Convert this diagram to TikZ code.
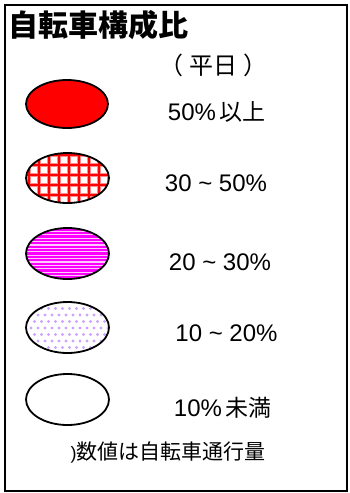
\documentclass[tikz,border=0pt]{standalone}
\usepackage{fontspec}
\setmainfont{Liberation Sans}
\newfontfamily\cjk{Noto Sans CJK JP}
\definecolor{dotpurple}{RGB}{205,165,255}
\definecolor{brightmagenta}{RGB}{255,0,255}
\definecolor{palemagenta}{RGB}{255,200,255}
\begin{document}
\begin{tikzpicture}[x=1pt,y=-1pt,
  lbl/.style={font=\fontsize{24}{26}\selectfont, anchor=center, inner sep=0pt},
]
\useasboundingbox (0,0) rectangle (349,493);
\fill[white] (0,0) rectangle (349,493);
\draw[line width=2.5pt] (5,5) rectangle (347,491);

% title
\node[anchor=west, inner sep=0pt, font=\fontsize{30}{32}\cjk\bfseries\selectfont] (title) at (8,25) {自転車構成比};
\node[inner sep=0pt, font=\fontsize{24}{26}\cjk\selectfont] (sub) at (213,65) {（\hspace{6pt}平日\hspace{6pt}）};

% swatch 1: solid red
\coordinate (e1) at (67,104);
\fill[red] (e1) ellipse [x radius=41, y radius=24];
\draw[line width=1.8pt] (e1) ellipse [x radius=41, y radius=24];

% swatch 2: red grid
\coordinate (e2) at (67.5,178);
\begin{scope}
  \clip (e2) ellipse [x radius=41.5, y radius=25];
  \fill[white] (e2) ellipse [x radius=41.5, y radius=25];
  \foreach \i in {0,...,9} {
    \draw[red!45, line width=4.6pt] ({29+\i*10},150) -- ({29+\i*10},206);
  }
  \foreach \j in {0,...,5} {
    \draw[red!45, line width=4.6pt] (20,{155+\j*10}) -- (115,{155+\j*10});
  }
  \foreach \i in {0,...,9} {
    \draw[red, line width=2.6pt] ({29+\i*10},150) -- ({29+\i*10},206);
  }
  \foreach \j in {0,...,5} {
    \draw[red, line width=2.6pt] (20,{155+\j*10}) -- (115,{155+\j*10});
  }
\end{scope}
\draw[line width=1.8pt] (e2) ellipse [x radius=41.5, y radius=25];

% swatch 3: magenta stripes
\coordinate (e3) at (67.5,253.5);
\begin{scope}
  \clip (e3) ellipse [x radius=41.5, y radius=25.5];
  \fill[brightmagenta] (e3) ellipse [x radius=41.5, y radius=25.5];
  \foreach \j in {0,...,16} {
    \draw[palemagenta, line width=1.3pt] (20,{228+\j*3.4}) -- (115,{228+\j*3.4});
  }
\end{scope}
\draw[line width=1.8pt] (e3) ellipse [x radius=41.5, y radius=25.5];

% swatch 4: purple dots
\coordinate (e4) at (67.5,327.5);
\begin{scope}
  \clip (e4) ellipse [x radius=41.5, y radius=25.5];
  \fill[white] (e4) ellipse [x radius=41.5, y radius=25.5];
  \foreach \j in {0,...,8} {
    \pgfmathsetmacro{\off}{mod(\j,2)*3.5}
    \foreach \i in {0,...,13} {
      \fill[dotpurple] ({24+\i*7+\off},{302+\j*6.5}) circle (1.6);
    }
  }
\end{scope}
\draw[line width=1.8pt] (e4) ellipse [x radius=41.5, y radius=25.5];

% swatch 5: white
\coordinate (e5) at (67.5,399.5);
\draw[line width=1.8pt, fill=white] (e5) ellipse [x radius=41.5, y radius=25.5];

% labels
\node[lbl] (l1) at (216.5,112) {50\%\hspace{3pt}{\fontsize{23}{25}\cjk 以上}};
\node[lbl] (l2) at (216,183) {30 \textasciitilde{} 50\%};
\node[lbl] (l3) at (220,262) {20 \textasciitilde{} 30\%};
\node[lbl] (l4) at (226.5,333) {10 \textasciitilde{} 20\%};
\node[lbl] (l5) at (222.5,408) {10\%\hspace{3pt}{\fontsize{23}{25}\cjk 未満}};

\node[inner sep=0pt, font=\fontsize{21}{23}\selectfont] (note) at (168,453) {{\fontsize{18}{20}\selectfont)}{\cjk 数値は自転車通行量}};
\end{tikzpicture}
\end{document}
